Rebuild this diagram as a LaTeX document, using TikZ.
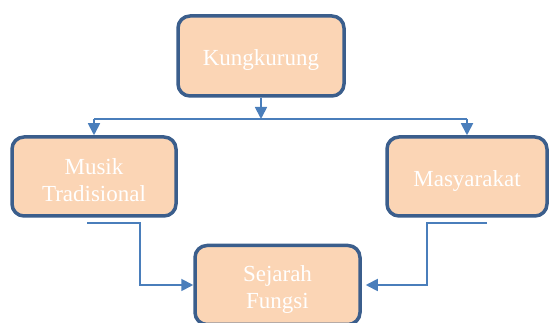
\documentclass[tikz,border=0pt]{standalone}
\usepackage{fontspec}
\setmainfont{Liberation Serif}
\usetikzlibrary{arrows.meta,positioning}
\definecolor{peach}{HTML}{FBD5B5}
\definecolor{frame}{HTML}{3B5E8C}
\definecolor{wire}{HTML}{4A7EBB}
\newcommand{\toppad}{\rule{0pt}{24pt}}
\tikzstyle{topic} = [rectangle, rounded corners=12pt, draw=frame, line width=3.5pt, fill=peach, text=white, align=center, font=\fontsize{23}{27}\selectfont]
\tikzstyle{arrow} = [draw=wire, line width=1.8pt, -{Triangle[length=12pt,width=12pt]}]
\tikzstyle{line} = [draw=wire, line width=1.8pt]

\begin{document}
\begin{tikzpicture}[x=1pt, y=-1pt]
    \useasboundingbox (0,0) rectangle (550,323);

    \node (kung) [topic, minimum width=166pt, minimum height=80pt] at (261,56) {\toppad Kungkurung};
    \node (musik) [topic, minimum width=164pt, minimum height=79pt] at (94,176.5) {\toppad Musik\\Tradisional};
    \node (masy) [topic, minimum width=160pt, minimum height=79pt] at (467,176.5) {\toppad Masyarakat};
    \node (sej) [topic, minimum width=165pt, minimum height=79pt] at (277.5,285) {\toppad Sejarah\\Fungsi};

    % branch under the top box
    \coordinate (split) at (kung.south |- 0,119);
    \coordinate (left) at (musik.north |- split);
    \coordinate (right) at (masy.north |- split);
    \draw [arrow] (kung.south) -- (split);
    \draw [line] (left) -- (right);
    \draw [arrow] (left) -- (musik.north);
    \draw [arrow] (right) -- (masy.north);

    % links into the bottom box
    \coordinate (m0) at (87,223);
    \coordinate (m1) at (140,223);
    \coordinate (s0) at (487,223);
    \coordinate (s1) at (427,223);
    \draw [arrow] (m0) -- (m1) |- (sej.west);
    \draw [arrow, shorten >=4pt] (s0) -- (s1) |- (sej.east);
\end{tikzpicture}
\end{document}
